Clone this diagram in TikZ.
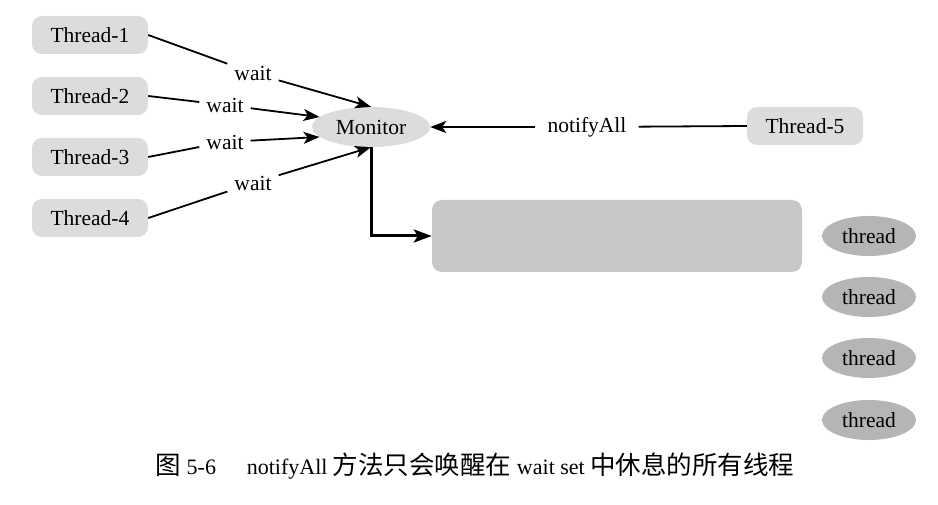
\documentclass[tikz,border=0pt]{standalone}
\usepackage{fontspec}
\setmainfont{Liberation Serif}
\newfontfamily\cjk{Noto Sans CJK SC}
\usetikzlibrary{arrows.meta,shapes.geometric}
\definecolor{boxlight}{HTML}{DCDCDC}
\definecolor{boxmid}{HTML}{C8C8C8}
\definecolor{boxdark}{HTML}{B5B5B5}
\newcommand{\cj}[1]{{\cjk\fontsize{25.5}{30}\selectfont #1}}
\tikzset{
  tbox/.style={draw=none, fill=boxlight, rounded corners=10pt, minimum width=116pt, minimum height=38pt, inner sep=0pt, font=\fontsize{21.5}{25}\selectfont},
  mon/.style={ellipse, draw=none, fill=boxlight, minimum width=118pt, minimum height=40pt, inner sep=0pt, font=\fontsize{21.5}{25}\selectfont},
  thr/.style={ellipse, draw=none, fill=boxdark, minimum width=94pt, minimum height=40pt, inner sep=0pt, font=\fontsize{21.5}{25}\selectfont},
  lbl/.style={inner sep=7pt, font=\fontsize{21.5}{25}\selectfont},
  conn/.style={line width=1.8pt},
  arr/.style={line width=1.8pt, -{Stealth[length=16pt,width=12pt,inset=4pt]}},
  thickarr/.style={line width=3pt, -{Stealth[length=18pt,width=13pt,inset=4pt]}},
}
\begin{document}
\begin{tikzpicture}[x=1pt,y=-1pt]
\useasboundingbox (0,0) rectangle (938,505);
\node[tbox] (t1) at (90,35) {Thread-1};
\node[tbox] (t2) at (90,96) {Thread-2};
\node[tbox] (t3) at (90,157) {Thread-3};
\node[tbox] (t4) at (90,218) {Thread-4};
\node[mon] (m) at (371,127) {Monitor};
\node[tbox] (t5) at (805,126) {Thread-5};
\node[draw=none, fill=boxmid, rounded corners=10pt, minimum width=370pt, minimum height=72pt, inner sep=0pt] (ws) at (617,236) {};
\node[thr] (h1) at (869,236) {thread};
\node[thr] (h2) at (869,297) {thread};
\node[thr] (h3) at (869,358) {thread};
\node[thr] (h4) at (869,420) {thread};
\node[lbl] (w1) at (253,73) {wait};
\node[lbl] (w2) at (225,105) {wait};
\node[lbl] (w3) at (225,142) {wait};
\node[lbl] (w4) at (253,183) {wait};
\node[lbl, inner sep=12pt] (na) at (587,127) {notifyAll};
\draw[conn] (t1.east) -- (w1);
\draw[arr] (w1) -- (m.north);
\draw[conn] (t2.east) -- (w2);
\draw[arr] (w2) -- (m.169);
\draw[conn] (t3.east) -- (w3);
\draw[arr] (w3) -- (m.191);
\draw[conn] (t4.east) -- (w4);
\draw[arr] (w4) -- (m.south);
\draw[conn] (t5.west) -- (na);
\draw[arr] (na) -- (m.east);
\draw[thickarr] (m.south) |- (ws.west);
\node[inner sep=0pt] (cap) at (475,466) {\fontsize{22}{26}\selectfont\cj{图} 5-6\hspace{1.4em}notifyAll \cj{方法只会唤醒在} wait set \cj{中休息的所有线程}};
\end{tikzpicture}
\end{document}
